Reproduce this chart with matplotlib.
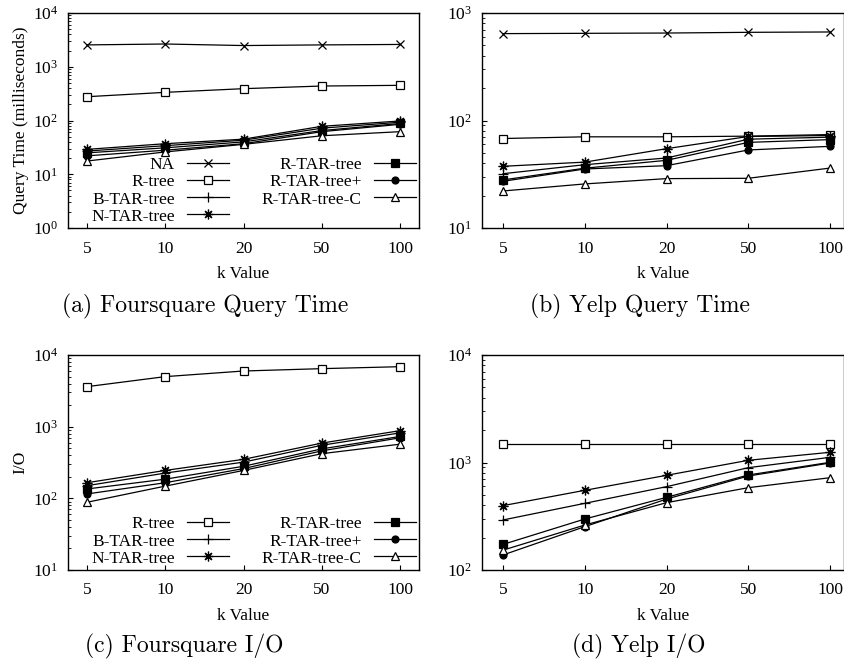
import matplotlib
matplotlib.use("Agg")
import matplotlib.pyplot as plt
import numpy as np

plt.rcParams['font.family'] = ['Liberation Serif', 'DejaVu Serif']
plt.rcParams['mathtext.fontset'] = 'custom'
plt.rcParams['mathtext.rm'] = 'Liberation Serif'
plt.rcParams['mathtext.it'] = 'Liberation Serif:italic'
plt.rcParams['font.size'] = 12.5

k_labels = ['5', '10', '20', '50', '100']

# (a) Foursquare Query Time (ms)
fq_na = [2550, 2650, 2480, 2550, 2600]
fq_rtree = [277, 334, 391, 438, 451]
fq_btar = [27, 34, 43, 72, 93]
fq_ntar = [29, 37, 45, 78, 98]
fq_rtar = [25, 31, 40, 65, 88]
fq_rtarp = [22, 28, 37, 62, 85]
fq_rtarc = [17.6, 26, 36, 52, 62]

# (b) Yelp Query Time (ms)
yq_na = [643, 647, 651, 661, 666]
yq_rtree = [68, 70.5, 70.5, 71.5, 74]
yq_btar = [32, 38.8, 44.8, 67, 70]
yq_ntar = [37.5, 41, 54.7, 71, 72.5]
yq_rtar = [28, 36, 42.6, 62.6, 66.4]
yq_rtarp = [27.2, 35.4, 38, 53.2, 57.5]
yq_rtarc = [22.1, 25.7, 28.8, 29, 36.1]

# (c) Foursquare I/O
fi_rtree = [3614, 4990, 5980, 6450, 6870]
fi_btar = [150, 225, 320, 550, 820]
fi_ntar = [165, 245, 350, 590, 880]
fi_rtar = [135, 185, 280, 490, 730]
fi_rtarp = [115, 165, 260, 460, 700]
fi_rtarc = [88, 148, 245, 420, 570]

# (d) Yelp I/O
yi_rtree = [1490, 1490, 1490, 1490, 1490]
yi_btar = [292, 417, 596, 895, 1117]
yi_ntar = [397, 551, 760, 1048, 1244]
yi_rtar = [173, 298, 474, 765, 1004]
yi_rtarp = [138, 253, 457, 749, 989]
yi_rtarc = [153, 262, 423, 583, 722]

asterisk = (8, 2, 0)
styles = {
    'NA': dict(marker='x', mfc='black', ms=6),
    'R-tree': dict(marker='s', mfc='white', ms=5.5),
    'B-TAR-tree': dict(marker='+', mfc='black', ms=7),
    'N-TAR-tree': dict(marker=asterisk, mfc='black', ms=7),
    'R-TAR-tree': dict(marker='s', mfc='black', ms=5.5),
    'R-TAR-tree+': dict(marker='o', mfc='black', ms=5),
    'R-TAR-tree-C': dict(marker='^', mfc='white', ms=5.5),
}

fig = plt.figure(figsize=(8.44, 6.66), dpi=100)
W, H = 844, 666

def make_ax(left, top, right, bottom):
    return fig.add_axes([left / W, 1 - bottom / H, (right - left) / W, (bottom - top) / H])

ax_a = make_ax(68, 13, 419, 228)
ax_b = make_ax(482, 13, 844, 228)
ax_c = make_ax(68, 355, 419, 570)
ax_d = make_ax(482, 355, 844, 570)

x = np.arange(len(k_labels))

def draw(ax, series, ylim, xlim, legend=False):
    for name, vals in series:
        st = styles[name]
        ax.plot(x, vals, color='black', lw=0.9, marker=st['marker'], ms=st['ms'],
                mfc=st['mfc'], mec='black', mew=0.9, label=name)
    ax.set_yscale('log')
    ax.set_ylim(*ylim)
    ax.set_xlim(*xlim)
    ax.set_xticks(x)
    ax.set_xticklabels(k_labels)
    ax.tick_params(which='major', direction='in', length=3.5, width=0.8, pad=7, labelsize=12.5)
    ax.tick_params(axis='x', which='major', pad=9)
    ax.tick_params(which='minor', direction='in', length=2, width=0.6)
    ax.tick_params(axis='x', which='minor', bottom=False)
    ax.set_xlabel('k Value', fontsize=12.5, labelpad=7)
    for s in ax.spines.values():
        s.set_linewidth(1.0)
    if legend:
        ax.legend(ncol=2, loc='lower right', bbox_to_anchor=(1.0, 0.0), frameon=False,
                  markerfirst=False, handlelength=2.4, handletextpad=0.7,
                  columnspacing=1.9, labelspacing=0.05, borderaxespad=0.0,
                  borderpad=0.2, fontsize=12.5, numpoints=1)

xl_a = (-0.24, 4.24)
xl_b = (-0.257, 4.171)

draw(ax_a, [('NA', fq_na), ('R-tree', fq_rtree), ('B-TAR-tree', fq_btar),
            ('N-TAR-tree', fq_ntar), ('R-TAR-tree', fq_rtar), ('R-TAR-tree+', fq_rtarp),
            ('R-TAR-tree-C', fq_rtarc)], (1, 1e4), xl_a, legend=True)
draw(ax_b, [('NA', yq_na), ('R-tree', yq_rtree), ('B-TAR-tree', yq_btar),
            ('N-TAR-tree', yq_ntar), ('R-TAR-tree', yq_rtar), ('R-TAR-tree+', yq_rtarp),
            ('R-TAR-tree-C', yq_rtarc)], (10, 1e3), xl_b)
draw(ax_c, [('R-tree', fi_rtree), ('B-TAR-tree', fi_btar), ('N-TAR-tree', fi_ntar),
            ('R-TAR-tree', fi_rtar), ('R-TAR-tree+', fi_rtarp), ('R-TAR-tree-C', fi_rtarc)],
     (10, 1e4), xl_a, legend=True)
draw(ax_d, [('R-tree', yi_rtree), ('B-TAR-tree', yi_btar), ('N-TAR-tree', yi_ntar),
            ('R-TAR-tree', yi_rtar), ('R-TAR-tree+', yi_rtarp), ('R-TAR-tree-C', yi_rtarc)],
     (100, 1e4), xl_b)

ax_a.set_ylabel('Query Time (milliseconds)', fontsize=12.5, labelpad=3)
ax_c.set_ylabel('I/O', fontsize=12.5, labelpad=3)

cap = dict(fontsize=17, family='cmr10', ha='center', va='center')
fig.text(205 / W, 1 - 306 / H, '(a) Foursquare Query Time', **cap)
fig.text(640 / W, 1 - 306 / H, '(b) Yelp Query Time', **cap)
fig.text(184 / W, 1 - 646 / H, '(c) Foursquare I/O', **cap)
fig.text(639 / W, 1 - 646 / H, '(d) Yelp I/O', **cap)

fig.savefig('out.png', dpi=100)
